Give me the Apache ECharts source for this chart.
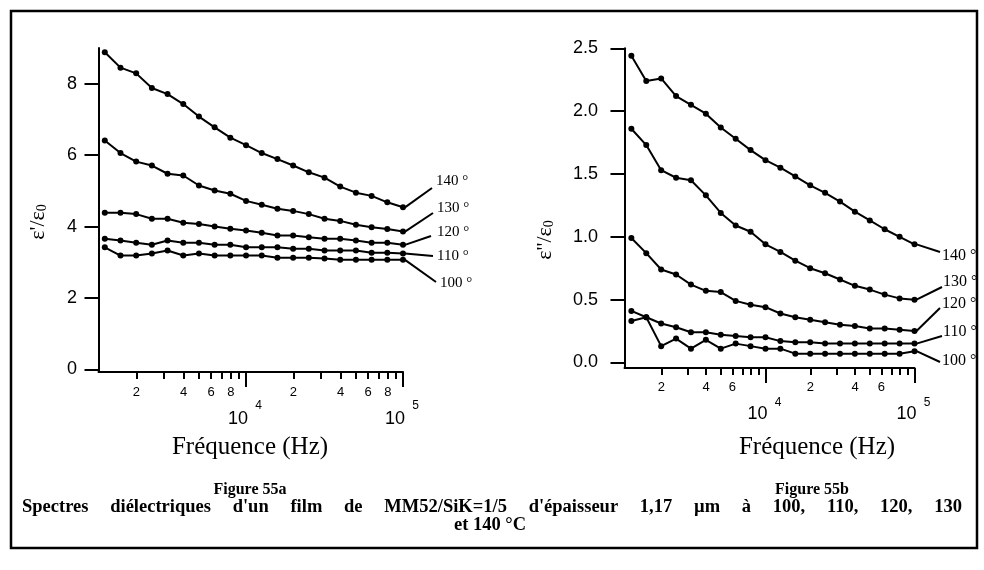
<!DOCTYPE html>
<html><head><meta charset="utf-8">
<script src="https://cdn.jsdelivr.net/npm/echarts@6/dist/echarts.min.js"></script>
<style>html,body{margin:0;padding:0;background:#fff}#c{width:984px;height:570px}</style>
</head><body><div id="c"></div>
<script>
// ---------- data ----------
const frequencies = [1259,1585,1995,2512,3162,3981,5012,6310,7943,10000,12589,15849,19953,25119,31623,39811,50119,63096,79433,100000];
const temperatures = ['140 °','130 °','120 °','110 °','100 °'];
const epsReal_140 = [8.88,8.45,8.29,7.88,7.71,7.43,7.08,6.78,6.49,6.28,6.06,5.89,5.71,5.52,5.37,5.12,4.95,4.86,4.68,4.54];
const epsReal_130 = [6.41,6.06,5.82,5.71,5.48,5.43,5.15,5.01,4.92,4.72,4.61,4.50,4.44,4.35,4.22,4.16,4.05,3.98,3.93,3.86];
const epsReal_120 = [4.39,4.39,4.35,4.22,4.22,4.11,4.07,4.00,3.94,3.89,3.83,3.75,3.75,3.70,3.66,3.66,3.61,3.55,3.55,3.49];
const epsReal_110 = [3.66,3.61,3.55,3.49,3.61,3.55,3.55,3.49,3.49,3.42,3.42,3.42,3.38,3.38,3.33,3.33,3.33,3.27,3.27,3.25];
const epsReal_100 = [3.42,3.19,3.19,3.25,3.33,3.19,3.25,3.19,3.19,3.19,3.19,3.13,3.13,3.13,3.11,3.07,3.07,3.07,3.07,3.07];
const epsImag_140 = [2.44,2.24,2.26,2.12,2.05,1.98,1.87,1.78,1.69,1.61,1.55,1.48,1.41,1.35,1.28,1.20,1.13,1.06,1.00,0.94];
const epsImag_130 = [1.86,1.73,1.53,1.47,1.45,1.33,1.19,1.09,1.04,0.94,0.88,0.81,0.75,0.71,0.66,0.61,0.58,0.54,0.51,0.50];
const epsImag_120 = [0.99,0.87,0.74,0.70,0.62,0.57,0.56,0.49,0.46,0.44,0.39,0.36,0.34,0.32,0.30,0.29,0.27,0.27,0.26,0.25];
const epsImag_110 = [0.41,0.36,0.31,0.28,0.24,0.24,0.22,0.21,0.20,0.20,0.17,0.16,0.16,0.15,0.15,0.15,0.15,0.15,0.15,0.15];
const epsImag_100 = [0.33,0.36,0.13,0.19,0.11,0.18,0.11,0.15,0.13,0.11,0.11,0.07,0.07,0.07,0.07,0.07,0.07,0.07,0.07,0.09];

const minorTickFreqs = [2000,3000,4000,5000,6000,7000,8000,9000,20000,30000,40000,50000,60000,70000,80000,90000];
const majorTickFreqs = [10000,100000];
const tickLabelFreqsA = [2000,4000,6000,8000,20000,40000,60000,80000];
const tickLabelFreqsB = [2000,4000,6000,20000,40000,60000];
const yTicksA = [0,2,4,6,8];
const yTicksB = [0,0.5,1.0,1.5,2.0,2.5];

const xTitle = 'Fréquence (Hz)';
const yTitleA = "ε'/ε";
const yTitleB = "ε''/ε";
const yTitleSub = '0';
const figTitleA = 'Figure 55a';
const figTitleB = 'Figure 55b';
const captionLine1 = "Spectres diélectriques d'un film de MM52/SiK=1/5 d'épaisseur 1,17 µm à 100, 110, 120, 130";
const captionLine2 = 'et 140 °C';

// ---------- helpers ----------
const lg = v => Math.round(Math.log10(v) * 1e9) / 1e9;
const SANS = '"Liberation Sans", Arial, sans-serif';
const SERIF = '"Liberation Serif", "Times New Roman", serif';
const minorFmt = v => String(Math.round(Math.pow(10, v) / Math.pow(10, Math.floor(v + 1e-9))));

function xAxesFor(grid, min, max, labelFreqs, minorMargin, baseMargin, expMargin) {
  return [{
    type: 'value', gridIndex: grid, min: min, max: max, position: 'bottom',
    axisLine: { show: true, onZero: false, lineStyle: { color: '#000', width: 2 } },
    axisTick: { show: true, customValues: minorTickFreqs.map(lg), length: 7, lineStyle: { color: '#000', width: 2 } },
    axisLabel: { customValues: labelFreqs.map(lg), formatter: minorFmt, margin: minorMargin,
      fontSize: 13, fontFamily: SANS, color: '#000' },
    splitLine: { show: false }
  }, {
    type: 'value', gridIndex: grid, min: min, max: max, position: 'bottom',
    axisLine: { show: false, onZero: false },
    axisTick: { show: true, customValues: majorTickFreqs.map(lg), length: 15, lineStyle: { color: '#000', width: 2 } },
    axisLabel: { customValues: majorTickFreqs.map(lg), formatter: () => '{b|10}', margin: baseMargin,
      rich: { b: { fontSize: 18, fontFamily: SANS, color: '#000', padding: [0, 16, 0, 0] } } },
    splitLine: { show: false }
  }, {
    type: 'value', gridIndex: grid, min: min, max: max, position: 'bottom',
    axisLine: { show: false, onZero: false },
    axisTick: { show: false },
    axisLabel: { customValues: majorTickFreqs.map(lg), formatter: v => '{e|' + Math.round(v) + '}', margin: expMargin,
      rich: { e: { fontSize: 12, fontFamily: SANS, color: '#000', padding: [0, 0, 0, 25] } } },
    splitLine: { show: false }
  }];
}
function yAxisFor(grid, min, max, ticks, fmt, margin) {
  return {
    type: 'value', gridIndex: grid, min: min, max: max,
    axisLine: { show: true, onZero: false, lineStyle: { color: '#000', width: 2 } },
    axisTick: { show: true, customValues: ticks, length: 14, lineStyle: { color: '#000', width: 2 } },
    axisLabel: { customValues: ticks, formatter: fmt, margin: margin, fontSize: 18, fontFamily: SANS, color: '#000' },
    splitLine: { show: false }
  };
}
function lineSeries(name, xi, yi, values) {
  return {
    type: 'line', name: name, xAxisIndex: xi, yAxisIndex: yi, clip: false,
    data: frequencies.map((f, i) => [lg(f), values[i]]),
    symbol: 'circle', symbolSize: 6, showSymbol: true,
    lineStyle: { color: '#000', width: 2 }, itemStyle: { color: '#000' },
    emphasis: { disabled: true }, silent: true
  };
}

const realSets = [epsReal_140, epsReal_130, epsReal_120, epsReal_110, epsReal_100];
const imagSets = [epsImag_140, epsImag_130, epsImag_120, epsImag_110, epsImag_100];

const chart = echarts.init(document.getElementById('c'), null, { renderer: 'canvas' });
const series = [];
realSets.forEach((arr, i) => series.push(lineSeries('a' + temperatures[i], 0, 0, arr)));
imagSets.forEach((arr, i) => series.push(lineSeries('b' + temperatures[i], 3, 1, arr)));

chart.setOption({
  animation: false,
  backgroundColor: '#fff',
  grid: [
    { left: 98.5, top: 48, width: 304.5, height: 324 },
    { left: 624.5, top: 48.3, width: 290, height: 319.7 }
  ],
  xAxis: [].concat(
    xAxesFor(0, 3.06, 5, tickLabelFreqsA, 14, 38, 28),
    xAxesFor(1, 3.054, 5, tickLabelFreqsB, 13, 37, 29)
  ),
  yAxis: [
    yAxisFor(0, -0.07, 9, yTicksA, v => String(v), 21.5),
    yAxisFor(1, -0.044, 2.5, yTicksB, v => v.toFixed(1), 26.5)
  ],
  series: series
});

// ---------- annotations ----------
const g = [];
g.push({ type: 'rect', shape: { x: 11, y: 11, width: 966, height: 537 }, style: { fill: 'none', stroke: '#000', lineWidth: 2.5 }, silent: true });

function txt(text, x, y, font, align) {
  g.push({ type: 'text', x: x, y: y, silent: true,
    style: { text: text, font: font, fill: '#000', align: align || 'center', verticalAlign: 'middle' } });
}
txt(xTitle, 250, 447, '25px ' + SERIF);
txt(xTitle, 817, 447, '25px ' + SERIF);
txt(figTitleA, 250, 490, 'bold 16px ' + SERIF);
txt(figTitleB, 812, 490, 'bold 16px ' + SERIF);

function yTitle(main, x, y) {
  g.push({ type: 'text', x: x, y: y, rotation: Math.PI / 2, silent: true,
    style: { text: '{m|' + main + '}{s|' + yTitleSub + '}', align: 'center', verticalAlign: 'middle',
      rich: {
        m: { fontFamily: SERIF, fontSize: 22, fill: '#000', lineHeight: 24, verticalAlign: 'bottom' },
        s: { fontFamily: SERIF, fontSize: 14, fill: '#000', lineHeight: 18, verticalAlign: 'bottom' }
      } } });
}
yTitle(yTitleA, 37, 222);
yTitle(yTitleB, 544, 240);

// justified caption
(function () {
  const font = 'bold 18.5px ' + SERIF;
  const ctx = document.createElement('canvas').getContext('2d');
  ctx.font = font;
  const words = captionLine1.split(' ');
  const widths = words.map(w => ctx.measureText(w).width);
  const left = 22, right = 962;
  const sum = widths.reduce((a, b) => a + b, 0);
  const gap = (right - left - sum) / (words.length - 1);
  let x = left;
  words.forEach((w, i) => { txt(w, x, 507, font, 'left'); x += widths[i] + gap; });
  txt(captionLine2, 490, 525, font);
})();

// curve labels with leader lines
const leadA = [[432, 188, 436, 181], [433, 213, 437, 208], [431, 236, 437, 232], [433, 256, 437, 256], [436, 282, 440, 283]];
const leadB = [[940, 252, 942, 256], [942, 287, 943, 282], [940, 308, 942, 304], [942, 336, 943, 332], [940, 362, 942, 361]];
function leaders(sets, xi, yi, lead, fontSize) {
  sets.forEach((arr, i) => {
    const n = arr.length - 1;
    const p = chart.convertToPixel({ xAxisIndex: xi, yAxisIndex: yi }, [lg(frequencies[n]), arr[n]]);
    const L = lead[i];
    g.push({ type: 'line', silent: true, shape: { x1: p[0] + 2, y1: p[1], x2: L[0], y2: L[1] }, style: { stroke: '#000', lineWidth: 2 } });
    txt(temperatures[i], L[2], L[3], fontSize + 'px ' + SERIF, 'left');
  });
}
leaders(realSets, 0, 0, leadA, 15);
leaders(imagSets, 3, 1, leadB, 16);

chart.setOption({ graphic: g });
</script>
</body></html>
